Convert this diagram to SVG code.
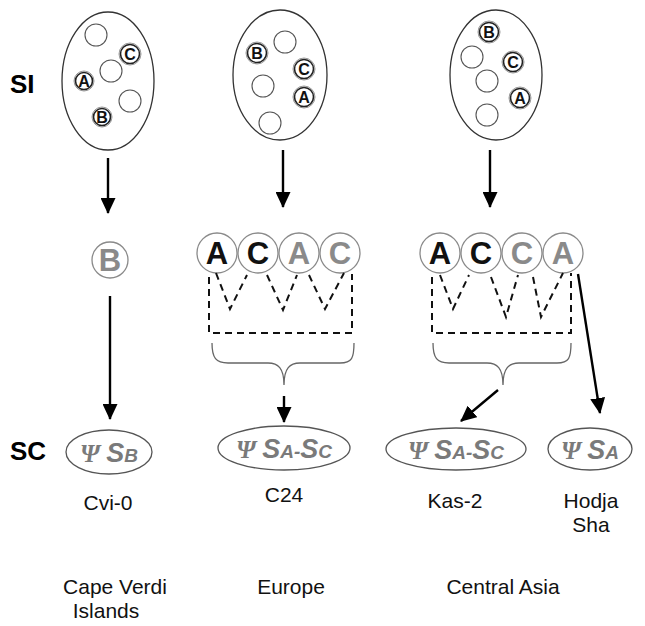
<svg xmlns="http://www.w3.org/2000/svg" width="645" height="626" viewBox="0 0 645 626">
  <style>
    .cell { fill: none; stroke: #333; stroke-width: 1.3; }
    .empty { fill: #fff; stroke: #555; stroke-width: 1.1; }
    .ring { fill: #fff; stroke: #999; stroke-width: 1; }
    .ringin { fill: none; stroke: #222; stroke-width: 1.6; }
    .let { font-family: "Liberation Sans", Arial, sans-serif; font-weight: bold; text-anchor: middle; }
    .small { font-size: 16px; fill: #111; }
    .big { font-size: 31px; }
    .dark { fill: #111; }
    .grey { fill: #8a8a8a; }
    .rc { fill: #fff; stroke: #8a8a8a; stroke-width: 1.3; }
    .dash { fill: none; stroke: #111; stroke-width: 2; stroke-dasharray: 7 5; }
    .brace { fill: none; stroke: #666; stroke-width: 1.3; }
    .arrow { stroke: #000; stroke-width: 2.4; fill: none; marker-end: url(#head); }
    .oval { fill: #fff; stroke: #555; stroke-width: 1.3; }
    .psi { font-family: "Liberation Serif", "Times New Roman", serif; font-style: italic; font-weight: bold; font-size: 25px; fill: #7a7a7a; }
    .s { font-family: "Liberation Sans", Arial, sans-serif; font-style: italic; font-weight: bold; font-size: 27px; fill: #7a7a7a; }
    .sub { font-size: 19px; }
    .lab { font-family: "Liberation Sans", Arial, sans-serif; font-size: 21px; fill: #111; text-anchor: middle; }
    .row { font-family: "Liberation Sans", Arial, sans-serif; font-weight: bold; font-size: 26px; fill: #000; }
  </style>
  <defs>
    <marker id="head" markerUnits="userSpaceOnUse" markerWidth="17" markerHeight="15" refX="15" refY="7.5" orient="auto">
      <path d="M0,0 L16,7.5 L0,15 Z" fill="#000"/>
    </marker>
  </defs>

  <!-- row labels -->
  <text class="row" x="10" y="93">SI</text>
  <text class="row" x="10" y="460">SC</text>

  <!-- Cape Verdi column: SI cell -->
  <g id="si-cvi">
    <ellipse class="cell" cx="108" cy="81" rx="46" ry="69"/>
    <circle class="empty" cx="96" cy="35" r="11"/>
    <circle class="ring" cx="130" cy="54" r="11"/><circle class="ringin" cx="130" cy="54" r="9.5"/>
    <text class="let small" x="130" y="59.8">C</text>
    <circle class="empty" cx="111" cy="71" r="11"/>
    <circle class="ring" cx="84" cy="81" r="10"/><circle class="ringin" cx="84" cy="81" r="8.5"/>
    <text class="let small" x="84" y="86.8">A</text>
    <circle class="empty" cx="130" cy="101" r="11"/>
    <circle class="ring" cx="102" cy="117" r="10"/><circle class="ringin" cx="102" cy="117" r="8.5"/>
    <text class="let small" x="102" y="122.8">B</text>
  </g>

  <!-- Europe column: SI cell -->
  <g id="si-c24">
    <ellipse class="cell" cx="280" cy="75" rx="47" ry="65"/>
    <circle class="empty" cx="285" cy="42" r="11"/>
    <circle class="ring" cx="257" cy="53" r="11"/><circle class="ringin" cx="257" cy="53" r="9.5"/>
    <text class="let small" x="257" y="58.8">B</text>
    <circle class="ring" cx="304" cy="69" r="11"/><circle class="ringin" cx="304" cy="69" r="9.5"/>
    <text class="let small" x="304" y="74.8">C</text>
    <circle class="empty" cx="263" cy="86" r="11"/>
    <circle class="ring" cx="304" cy="97" r="11"/><circle class="ringin" cx="304" cy="97" r="9.5"/>
    <text class="let small" x="304" y="102.8">A</text>
    <circle class="empty" cx="270" cy="123" r="11"/>
  </g>

  <!-- Central Asia column: SI cell -->
  <g id="si-asia">
    <ellipse class="cell" cx="496" cy="75" rx="46" ry="65"/>
    <circle class="ring" cx="489" cy="32" r="11"/><circle class="ringin" cx="489" cy="32" r="9.5"/>
    <text class="let small" x="489" y="37.8">B</text>
    <circle class="empty" cx="472" cy="57" r="11"/>
    <circle class="ring" cx="513" cy="62" r="11"/><circle class="ringin" cx="513" cy="62" r="9.5"/>
    <text class="let small" x="513" y="67.8">C</text>
    <circle class="empty" cx="487" cy="81" r="11"/>
    <circle class="ring" cx="520" cy="98" r="11"/><circle class="ringin" cx="520" cy="98" r="9.5"/>
    <text class="let small" x="520" y="103.8">A</text>
    <circle class="empty" cx="487" cy="115" r="11"/>
  </g>

  <!-- expressed alleles -->
  <g id="allele-cvi">
    <circle class="rc" cx="110" cy="260" r="18"/>
    <text class="let big grey" x="110" y="271">B</text>
  </g>

  <g id="alleles-c24">
    <circle class="rc" cx="217" cy="253" r="20"/>
    <text class="let big dark" x="217" y="264">A</text>
    <circle class="rc" cx="258" cy="253" r="20"/>
    <text class="let big dark" x="258" y="264">C</text>
    <circle class="rc" cx="299" cy="253" r="20"/>
    <text class="let big grey" x="299" y="264">A</text>
    <circle class="rc" cx="340" cy="253" r="20"/>
    <text class="let big grey" x="340" y="264">C</text>
    <path class="dash" d="M209,277 V333 H352 V274"/>
    <path class="dash" d="M216,273 L230,309 L247,275"/>
    <path class="dash" d="M267,275 L283,310 L297,275"/>
    <path class="dash" d="M309,275 L325,309 L344,273"/>
    <path class="brace" d="M212,343 C212,358 216,363 228,363 L268,363 C278,363 284,368 284,385 C284,368 290,363 300,363 L340,363 C352,363 354,358 354,343"/>
  </g>

  <g id="alleles-asia">
    <circle class="rc" cx="440" cy="253" r="20"/>
    <text class="let big dark" x="440" y="264">A</text>
    <circle class="rc" cx="481" cy="253" r="20"/>
    <text class="let big dark" x="481" y="264">C</text>
    <circle class="rc" cx="522" cy="253" r="20"/>
    <text class="let big grey" x="522" y="264">C</text>
    <circle class="rc" cx="563" cy="253" r="20"/>
    <text class="let big grey" x="563" y="264">A</text>
    <path class="dash" d="M432,277 V333 H571 V273"/>
    <path class="dash" d="M440,275 L453,309 L469,275"/>
    <path class="dash" d="M491,277 L506,317 L518,275"/>
    <path class="dash" d="M533,277 L541,317 L563,273"/>
    <path class="brace" d="M433,343 C433,358 437,363 449,363 L487,363 C497,363 503,368 503,385 C503,368 509,363 519,363 L557,363 C569,363 571,358 571,343"/>
  </g>

  <!-- connectors -->
  <g id="connectors">
    <line class="arrow" x1="108" y1="158" x2="108" y2="213"/>
    <line class="arrow" x1="110" y1="296" x2="110" y2="419"/>
    <line class="arrow" x1="283" y1="150" x2="283" y2="207"/>
    <line class="arrow" x1="490" y1="150" x2="490" y2="207"/>
    <line class="arrow" x1="284" y1="396" x2="284" y2="422"/>
    <line class="arrow" x1="498" y1="390" x2="461" y2="421"/>
    <line class="arrow" x1="578" y1="274" x2="600" y2="413"/>
  </g>

  <!-- SC haplotypes -->
  <g id="sc-cvi">
    <ellipse class="oval" cx="109" cy="452" rx="43" ry="22"/>
    <text x="109" y="461.5" text-anchor="middle"><tspan class="psi">Ψ </tspan><tspan class="s">S</tspan><tspan class="s sub">B</tspan></text>
  </g>
  <g id="sc-c24">
    <ellipse class="oval" cx="284" cy="448" rx="66" ry="22"/>
    <text x="284" y="457.5" text-anchor="middle"><tspan class="psi">Ψ </tspan><tspan class="s">S</tspan><tspan class="s sub">A-</tspan><tspan class="s">S</tspan><tspan class="s sub">C</tspan></text>
  </g>
  <g id="sc-kas">
    <ellipse class="oval" cx="456" cy="449" rx="70" ry="21"/>
    <text x="456" y="458.5" text-anchor="middle"><tspan class="psi">Ψ </tspan><tspan class="s">S</tspan><tspan class="s sub">A-</tspan><tspan class="s">S</tspan><tspan class="s sub">C</tspan></text>
  </g>
  <g id="sc-hodja">
    <ellipse class="oval" cx="590" cy="449" rx="42" ry="21"/>
    <text x="590" y="458.5" text-anchor="middle"><tspan class="psi">Ψ </tspan><tspan class="s">S</tspan><tspan class="s sub">A</tspan></text>
  </g>

  <!-- accession names -->
  <text class="lab" x="108" y="510">Cvi-0</text>
  <text class="lab" x="284" y="502">C24</text>
  <text class="lab" x="455" y="508">Kas-2</text>
  <text class="lab" x="591" y="508">Hodja</text>
  <text class="lab" x="591" y="532">Sha</text>

  <!-- regions -->
  <text class="lab" x="115" y="594">Cape Verdi</text>
  <text class="lab" x="106" y="618">Islands</text>
  <text class="lab" x="291" y="594">Europe</text>
  <text class="lab" x="503" y="594">Central Asia</text>
</svg>
